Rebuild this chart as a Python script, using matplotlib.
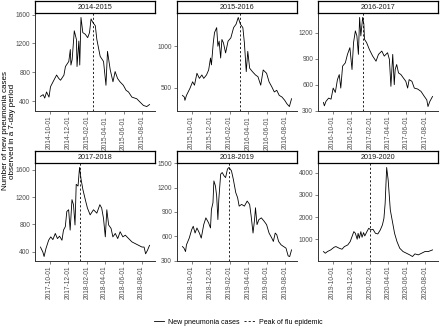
import matplotlib
matplotlib.use("Agg")
import matplotlib.pyplot as plt
import matplotlib.dates as mdates
from matplotlib.lines import Line2D
import pandas as pd

plt.rcParams['font.family'] = ['Liberation Sans', 'DejaVu Sans']

# seasons (start year of each Sept-Aug season)
seasons = ["2014-2015", "2015-2016", "2016-2017", "2017-2018", "2018-2019", "2019-2020"]

# days since Sept 1 of the season, and 7-day counts
days_1415 = [0, 9, 14, 20, 28, 33, 44, 53, 60, 66, 77, 82, 93, 98, 100, 104, 111, 118, 120, 126, 129, 133,
             139, 147, 155, 161, 166, 172, 180, 185, 196, 207, 215, 220, 229, 238, 245, 253, 261, 272, 281,
             289, 300, 316, 327, 338, 349, 358]
vals_1415 = [466, 490, 442, 527, 456, 600, 690, 762, 715, 690, 760, 880, 950, 1115, 900, 975, 1375, 1256, 880,
             1233, 900, 1560, 1350, 1327, 1280, 1350, 1540, 1490, 1445, 1256, 1020, 950, 620, 1090, 833, 668,
             810, 715, 668, 620, 550, 527, 456, 433, 386, 340, 325, 353]

days_1516 = [0, 6, 8, 13, 24, 33, 39, 47, 55, 63, 69, 78, 85, 91, 94, 100, 104, 111, 115, 119, 124, 128, 133,
             140, 148, 157, 166, 174, 181, 188, 196, 201, 207, 212, 218, 227, 237, 245, 254, 262, 273, 281, 290,
             298, 306, 314, 323, 332, 339, 347, 354]
vals_1516 = [410, 390, 350, 410, 492, 573, 532, 675, 614, 655, 614, 655, 715, 858, 776, 1040, 1163, 1223, 1000,
             1061, 858, 1081, 1040, 919, 1061, 1100, 1223, 1264, 1345, 1264, 1223, 1040, 695, 939, 736, 695, 655,
             634, 532, 715, 675, 573, 512, 451, 471, 410, 390, 350, 309, 276, 370]

days_1617 = [0, 3, 8, 17, 25, 32, 39, 46, 52, 57, 63, 72, 79, 87, 94, 99, 105, 110, 115, 119, 123, 129, 133,
             135, 142, 151, 162, 173, 181, 192, 200, 211, 217, 222, 228, 233, 236, 241, 247, 255, 263, 271, 277,
             282, 291, 299, 310, 321, 332, 340, 344, 350, 359]
vals_1617 = [397, 358, 408, 447, 435, 562, 512, 659, 717, 562, 814, 852, 949, 1026, 775, 1084, 1219, 1161, 949,
             1373, 1161, 1373, 1296, 1122, 1084, 1006, 929, 871, 949, 987, 929, 968, 891, 582, 949, 601, 775, 833,
             736, 717, 678, 640, 562, 659, 640, 562, 551, 524, 466, 427, 350, 408, 466]

days_1718 = [0, 8, 12, 18, 27, 34, 41, 49, 56, 63, 71, 76, 82, 87, 93, 98, 104, 109, 114, 118, 124, 129, 134,
             140, 148, 155, 164, 175, 186, 196, 202, 208, 214, 219, 225, 233, 239, 247, 255, 263, 272, 280, 291,
             302, 313, 324, 335, 342, 347, 353, 360]
vals_1718 = [469, 395, 330, 445, 569, 618, 578, 668, 593, 628, 569, 717, 767, 990, 1015, 717, 1163, 1089, 792,
             1387, 1362, 1634, 1461, 1312, 1163, 1040, 940, 1015, 965, 1089, 1040, 891, 618, 1015, 792, 742, 618,
             668, 593, 693, 618, 643, 593, 544, 519, 494, 469, 469, 370, 420, 494]

days_1819 = [0, 5, 10, 13, 22, 30, 35, 41, 47, 55, 61, 69, 76, 85, 91, 94, 99, 102, 107, 111, 115, 118, 124,
             129, 135, 140, 146, 151, 159, 165, 173, 179, 184, 192, 201, 210, 218, 223, 229, 234, 237, 242, 248,
             256, 265, 273, 281, 290, 295, 301, 306, 312, 320, 328, 336, 343, 348, 354]
vals_1819 = [477, 457, 415, 498, 580, 684, 725, 642, 704, 642, 580, 745, 828, 766, 704, 931, 1013, 1281, 1220,
             1096, 807, 1055, 1364, 1384, 1343, 1322, 1426, 1446, 1405, 1302, 1137, 1075, 972, 993, 972, 1034,
             993, 848, 642, 807, 952, 745, 807, 828, 787, 745, 642, 580, 539, 642, 622, 539, 498, 477, 457, 362,
             354, 436]

days_1920 = [0, 6, 13, 24, 35, 41, 52, 61, 69, 80, 88, 94, 100, 105, 111, 114, 118, 123, 127, 132, 136, 143,
             149, 156, 163, 171, 179, 187, 194, 199, 203, 208, 213, 220, 227, 234, 242, 251, 262, 273, 284, 293,
             301, 312, 323, 334, 345, 359]
vals_1920 = [445, 370, 445, 520, 640, 670, 595, 550, 670, 745, 895, 1120, 1345, 1270, 1000, 1270, 1045, 1345,
             1090, 1300, 1150, 1345, 1495, 1420, 1450, 1270, 1240, 1420, 1645, 1945, 2620, 4240, 3670, 2320,
             1795, 1270, 895, 595, 445, 370, 295, 220, 340, 295, 370, 445, 445, 520]

all_days = [days_1415, days_1516, days_1617, days_1718, days_1819, days_1920]
all_vals = [vals_1415, vals_1516, vals_1617, vals_1718, vals_1819, vals_1920]

# peak of flu epidemic per season
peaks = ["2015-02-21", "2016-03-05", "2017-01-10", "2018-01-08", "2019-01-30", "2020-02-02"]

y_ticks = [[400, 800, 1200, 1600], [500, 1000], [300, 600, 900, 1200],
           [400, 800, 1200, 1600], [300, 600, 900, 1200, 1500], [1000, 2000, 3000, 4000]]

W, H = 440, 328
fig = plt.figure(figsize=(W / 100, H / 100), dpi=100)

cols = [(35, 155), (177, 297), (318, 438)]
rows = [(13, 111), (163, 261)]
strip_h = 12
grey = "#4D4D4D"

for i, season in enumerate(seasons):
    (x0, x1) = cols[i % 3]
    (y0, y1) = rows[i // 3]
    ax = fig.add_axes([x0 / W, 1 - y1 / H, (x1 - x0) / W, (y1 - y0) / H])
    start = pd.Timestamp(season[:4] + "-09-01")
    dates = start + pd.to_timedelta(all_days[i], unit="D")
    ax.plot(dates, all_vals[i], color="black", lw=0.6)
    ax.axvline(pd.Timestamp(peaks[i]), color="black", lw=0.6, linestyle=(0, (2.5, 2.5)))

    yr = int(season[:4])
    xt = [pd.Timestamp(f"{yr}-10-01"), pd.Timestamp(f"{yr}-12-01"), pd.Timestamp(f"{yr + 1}-02-01"),
          pd.Timestamp(f"{yr + 1}-04-01"), pd.Timestamp(f"{yr + 1}-06-01"), pd.Timestamp(f"{yr + 1}-08-01")]
    ax.set_xticks(xt)
    ax.xaxis.set_major_formatter(mdates.DateFormatter("%Y-%m-%d"))
    ax.set_yticks(y_ticks[i])
    ax.margins(x=0.05, y=0.05)
    ax.tick_params(axis="x", labelrotation=90, labelsize=4.8, colors=grey, length=2, width=0.5, pad=1.5)
    ax.tick_params(axis="y", labelsize=4.8, colors=grey, length=2, width=0.5, pad=1.5)
    for s in ["top", "right"]:
        ax.spines[s].set_visible(False)
    for s in ["left", "bottom"]:
        ax.spines[s].set_color("#333333")
        ax.spines[s].set_linewidth(0.7)

    # strip
    sax = fig.add_axes([x0 / W, 1 - y0 / H, (x1 - x0) / W, strip_h / H])
    sax.set_xticks([])
    sax.set_yticks([])
    for s in sax.spines.values():
        s.set_linewidth(0.9)
        s.set_color("black")
    sax.text(0.5, 0.45, season, ha="center", va="center", fontsize=5.2, color="#1A1A1A",
             transform=sax.transAxes)

fig.text(9 / W, 1 - 131 / H, "Number of new pneumonia cases\nobserved in a 7-day period",
         rotation=90, ha="center", va="center", fontsize=5.8, color="black", linespacing=1.0)

handles = [Line2D([], [], color="black", lw=0.6),
           Line2D([], [], color="black", lw=0.6, linestyle=(0, (2.5, 2.5)))]
fig.legend(handles, ["New pneumonia cases", "Peak of flu epidemic"], loc="center",
           bbox_to_anchor=(238 / W, 1 - 322 / H), ncol=2, frameon=False, fontsize=5,
           handlelength=1.5, handletextpad=0.6, columnspacing=0.6)

fig.savefig("out.png", dpi=100)
